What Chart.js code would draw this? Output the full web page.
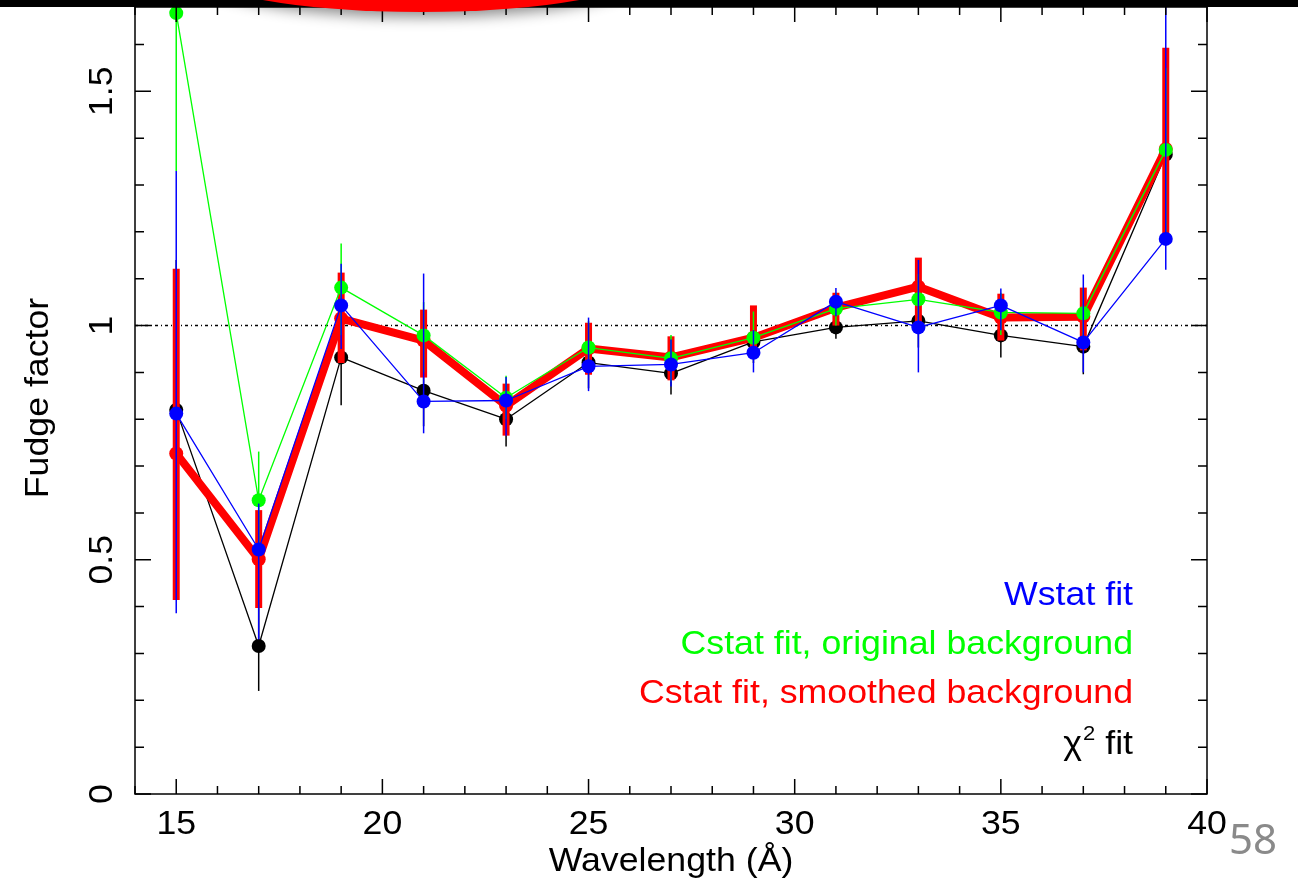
<!doctype html>
<html lang="en">
<head>
<meta charset="utf-8">
<title>Fudge factor vs wavelength</title>
<style>
  html, body { margin: 0; padding: 0; background: #fff; }
  #container { width: 1298px; height: 881px; position: relative; }
</style>
</head>
<body>
<div id="container"><canvas id="chart"></canvas></div>

<script src="https://cdn.jsdelivr.net/npm/chart.js@4.4.1/dist/chart.umd.min.js"></script>
<script>
// bin centres (Angstrom)
const WAVELENGTHS = [15, 17, 19, 21, 23, 25, 27, 29, 31, 33, 35, 37, 39];

// Wstat fit (blue)
const WSTAT    = [0.812, 0.522, 1.043, 0.838, 0.840, 0.913, 0.917, 0.942, 1.051, 0.996, 1.043, 0.964, 1.185];
const WSTAT_LO = [0.386, 0.330, 0.950, 0.770, 0.765, 0.860, 0.870, 0.900, 1.020, 0.900, 0.990, 0.900, 1.119];
const WSTAT_HI = [1.330, 0.620, 1.132, 1.111, 0.890, 1.017, 0.970, 0.990, 1.080, 1.140, 1.079, 1.109, 1.750];

// Cstat fit, original background (green)
const CSTAT_ORIG    = [1.667, 0.627, 1.081, 0.979, 0.846, 0.953, 0.930, 0.974, 1.036, 1.056, 1.028, 1.026, 1.375];
const CSTAT_ORIG_LO = [1.330, 0.520, 0.980, 0.900, 0.800, 0.900, 0.880, 0.930, 1.000, 1.000, 0.980, 0.960, 1.200];
const CSTAT_ORIG_HI = [2.000, 0.731, 1.175, 1.050, 0.893, 1.010, 0.980, 1.030, 1.070, 1.110, 1.070, 1.080, 1.550];

// Cstat fit, smoothed background (red)
const CSTAT_SMOOTH    = [0.727, 0.501, 1.015, 0.968, 0.829, 0.951, 0.932, 0.974, 1.038, 1.083, 1.017, 1.019, 1.377];
const CSTAT_SMOOTH_LO = [0.414, 0.397, 0.920, 0.889, 0.765, 0.895, 0.883, 0.930, 1.000, 0.996, 0.968, 0.947, 1.196];
const CSTAT_SMOOTH_HI = [1.121, 0.606, 1.113, 1.034, 0.876, 1.006, 0.977, 1.043, 1.070, 1.145, 1.068, 1.081, 1.593];

// chi^2 fit (black)
const CHI2    = [0.820, 0.316, 0.932, 0.861, 0.800, 0.921, 0.898, 0.965, 0.996, 1.010, 0.979, 0.955, 1.365];
const CHI2_LO = [0.500, 0.220, 0.830, 0.785, 0.742, 0.866, 0.853, 0.920, 0.972, 0.953, 0.932, 0.896, 1.200];
const CHI2_HI = [1.140, 0.410, 1.030, 0.940, 0.860, 0.980, 0.940, 1.010, 1.020, 1.070, 1.030, 1.010, 1.530];

const X_TICKS = [15, 20, 25, 30, 35, 40];
const X_TICK_LABELS = ["15", "20", "25", "30", "35", "40"];
const Y_TICKS = [0, 0.5, 1, 1.5];
const Y_TICK_LABELS = ["0", "0.5", "1", "1.5"];
const X_TITLE = "Wavelength (Å)";
const Y_TITLE = "Fudge factor";
const REF_VALUE = 1;
const PAGE_NUMBER = "58";

const FONT = '"Liberation Sans", Arial, sans-serif';
const FONT_SIZE = 34;
const STRETCH = 1.05;

const toPoints = vals => vals.map((v, i) => ({ x: WAVELENGTHS[i], y: v }));

const series = (label, vals, lo, hi, color, width, errWidth, radius) => ({
    label,
    data: toPoints(vals),
    errLo: lo,
    errHi: hi,
    errWidth,
    showLine: true,
    borderColor: color,
    backgroundColor: color,
    borderWidth: width,
    borderJoinStyle: "round",
    borderCapStyle: "round",
    pointRadius: radius,
    pointBorderWidth: 0,
    pointBackgroundColor: color
});

// first dataset is drawn on top
const datasets = [
    series("Wstat fit", WSTAT, WSTAT_LO, WSTAT_HI, "#0000ff", 1.3, 1.5, 7),
    series("Cstat fit, original background", CSTAT_ORIG, CSTAT_ORIG_LO, CSTAT_ORIG_HI, "#00ff00", 1.3, 1.5, 7),
    series("Cstat fit, smoothed background", CSTAT_SMOOTH, CSTAT_SMOOTH_LO, CSTAT_SMOOTH_HI, "#ff0000", 8, 7, 7),
    series("χ2 fit", CHI2, CHI2_LO, CHI2_HI, "#000000", 1.3, 1.5, 7)
];

function txt(ctx, s, x, y, o = {}) {
    ctx.save();
    ctx.translate(x, y);
    if (o.rot) ctx.rotate(o.rot);
    ctx.scale(o.stretch || STRETCH, 1);
    ctx.font = `${o.size || FONT_SIZE}px ${o.font || FONT}`;
    ctx.fillStyle = o.color || "#000";
    ctx.textAlign = o.align || "center";
    ctx.textBaseline = "alphabetic";
    ctx.fillText(s, 0, 0);
    ctx.restore();
}

function textWidth(ctx, s, size) {
    ctx.save();
    ctx.font = `${size}px ${FONT}`;
    const w = ctx.measureText(s).width * STRETCH;
    ctx.restore();
    return w;
}

const errorBars = {
    id: "errorBars",
    beforeDatasetDraw(chart, args) {
        const ds = chart.data.datasets[args.index];
        if (!ds.errLo) return;
        const { ctx, chartArea: a, scales: { x, y } } = chart;
        ctx.save();
        ctx.beginPath();
        ctx.rect(a.left, a.top, a.right - a.left, a.bottom - a.top);
        ctx.clip();
        ctx.strokeStyle = ds.borderColor;
        ctx.lineWidth = ds.errWidth;
        ds.data.forEach((p, i) => {
            const px = x.getPixelForValue(p.x);
            ctx.beginPath();
            ctx.moveTo(px, y.getPixelForValue(ds.errLo[i]));
            ctx.lineTo(px, y.getPixelForValue(ds.errHi[i]));
            ctx.stroke();
        });
        ctx.restore();
    }
};

const refLine = {
    id: "refLine",
    beforeDatasetsDraw(chart) {
        const { ctx, chartArea: a, scales: { y } } = chart;
        const py = y.getPixelForValue(REF_VALUE);
        ctx.save();
        ctx.strokeStyle = "#000";
        ctx.lineWidth = 1.4;
        ctx.setLineDash([3, 3, 1, 3]);
        ctx.beginPath();
        ctx.moveTo(a.left, py);
        ctx.lineTo(a.right, py);
        ctx.stroke();
        ctx.restore();
    }
};

const frame = {
    id: "frame",
    afterDraw(chart) {
        const { ctx, chartArea: a, scales: { x, y } } = chart;
        ctx.save();
        ctx.strokeStyle = "#000";
        ctx.lineWidth = 1.5;
        ctx.strokeRect(a.left, a.top, a.right - a.left, a.bottom - a.top);

        // inward ticks on all four sides
        ctx.beginPath();
        for (let v = Math.ceil(x.min); v <= x.max; v++) {
            const px = x.getPixelForValue(v);
            const len = v % 5 === 0 ? 15 : 8;
            ctx.moveTo(px, a.bottom); ctx.lineTo(px, a.bottom - len);
            ctx.moveTo(px, a.top); ctx.lineTo(px, a.top + len);
        }
        for (let k = 0; k / 10 <= y.max; k++) {
            const py = y.getPixelForValue(k / 10);
            const len = k % 5 === 0 ? 16 : 9;
            ctx.moveTo(a.left, py); ctx.lineTo(a.left + len, py);
            ctx.moveTo(a.right, py); ctx.lineTo(a.right - len, py);
        }
        ctx.stroke();
        ctx.restore();

        // tick labels and axis titles
        X_TICKS.forEach((v, i) => txt(ctx, X_TICK_LABELS[i], x.getPixelForValue(v), 834));
        Y_TICKS.forEach((v, i) => txt(ctx, Y_TICK_LABELS[i], 112, y.getPixelForValue(v), { rot: -Math.PI / 2 }));
        txt(ctx, X_TITLE, (a.left + a.right) / 2, 871);
        txt(ctx, Y_TITLE, 48, 398, { rot: -Math.PI / 2 });

        // in-plot labels, right aligned
        const right = 1133;
        txt(ctx, datasets[0].label, right, 605, { align: "right", color: "#0000ff" });
        txt(ctx, datasets[1].label, right, 654, { align: "right", color: "#00ff00" });
        txt(ctx, datasets[2].label, right, 703, { align: "right", color: "#ff0000" });
        const wFit = textWidth(ctx, " fit", FONT_SIZE);
        const w2 = textWidth(ctx, "2", 21);
        txt(ctx, " fit", right, 754, { align: "right" });
        txt(ctx, "2", right - wFit, 740, { align: "right", size: 21 });
        txt(ctx, "χ", right - wFit - w2 - 1, 754, { align: "right" });

        // slide decoration at top and page number
        ctx.save();
        ctx.fillStyle = "#000";
        ctx.fillRect(0, 0, chart.width, 7);
        ctx.shadowColor = "rgba(0,0,0,0.45)";
        ctx.shadowBlur = 14;
        ctx.shadowOffsetY = 5;
        ctx.fillStyle = "#ff0000";
        ctx.beginPath();
        ctx.ellipse(421, -30, 226, 42, 0, 0, Math.PI * 2);
        ctx.fill();
        ctx.restore();
        txt(ctx, PAGE_NUMBER, 1229, 854, { align: "left", size: 42, font: '"Noto Sans", sans-serif', color: "#8a8a8a", stretch: 1 });
    }
};

const config = {
    type: "scatter",
    data: { datasets },
    options: {
        responsive: true,
        maintainAspectRatio: false,
        animation: false,
        layout: { padding: { left: 135, right: 91, top: 7, bottom: 87 } },
        scales: {
            x: { type: "linear", min: 14, max: 40, display: false },
            y: { type: "linear", min: 0, max: 1.68, display: false }
        },
        plugins: {
            legend: { display: false },
            tooltip: { enabled: false }
        }
    },
    plugins: [errorBars, refLine, frame]
};

const chart = new Chart("chart", config);
</script>
</body>
</html>
